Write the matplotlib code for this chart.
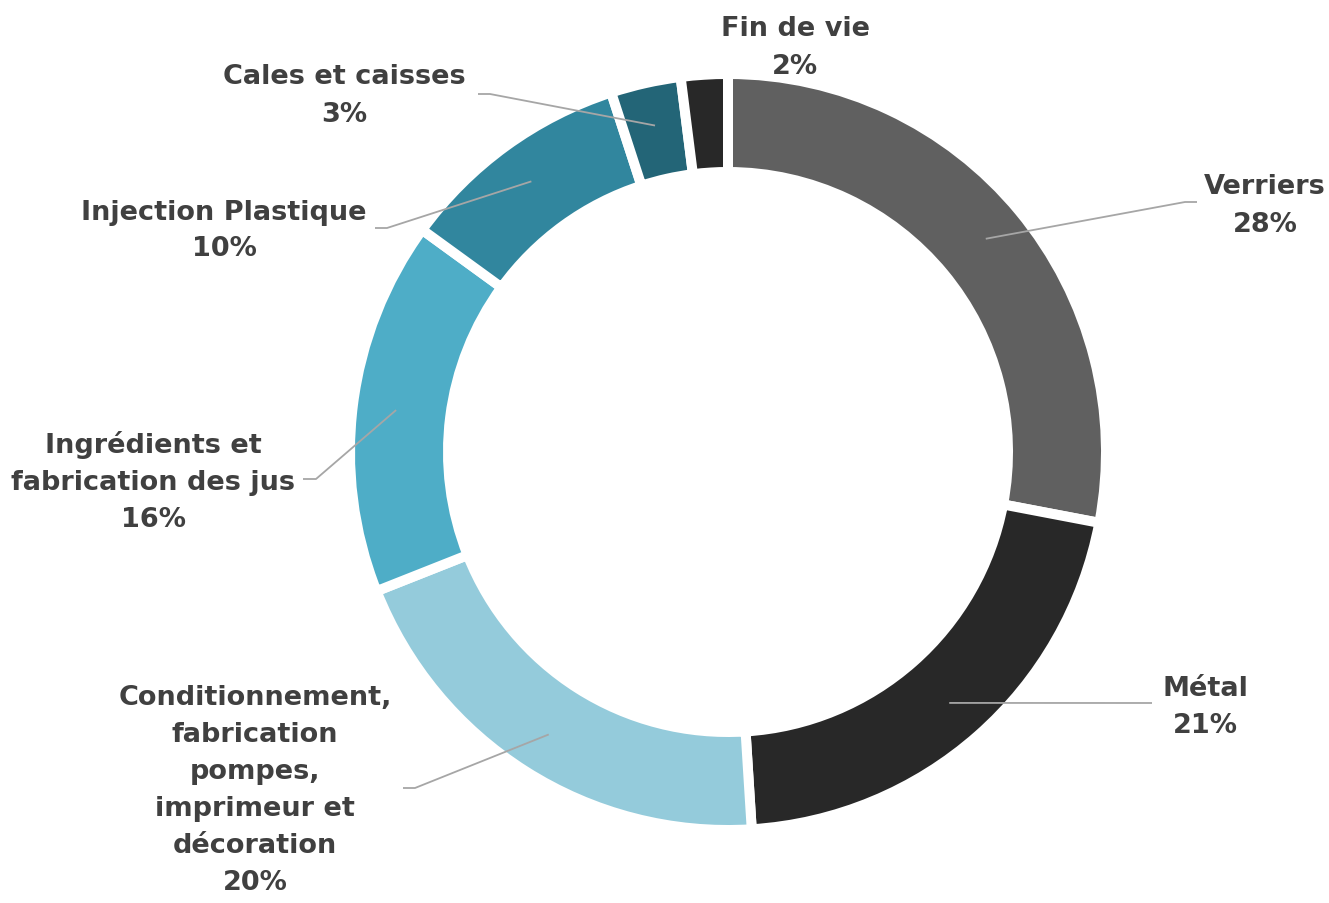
import matplotlib
matplotlib.use("Agg")
import matplotlib.pyplot as plt
import numpy as np

labels = ["Verriers", "Métal",
          "Conditionnement,\nfabrication\npompes,\nimprimeur et\ndécoration",
          "Ingrédients et\nfabrication des jus", "Injection Plastique",
          "Cales et caisses", "Fin de vie"]
shares = [28, 21, 20, 16, 10, 3, 2]
colors = ["#606060", "#282828", "#94CBDB", "#4EADC7", "#31869E", "#236577", "#282828"]

# label anchor (text centre) and leader elbow, in pixel coords (y down)
label_pos = [(1265, 206), (1205, 708), (255, 791), (153, 482), (224, 231), (344, 96), (795, 48)]
elbows = [(1185, 203), None, (415, 789), (316, 480), (387, 229), (490, 95), None]
ends = [(1197, 203), (1152, 704), (403, 789), (303, 480), (375, 229), (478, 95), None]

W, H = 1329, 904
cx, cy = 728, 453
R = 378

plt.rcParams["font.family"] = ["DejaVu Sans"]
txt_color = "#404040"

fig = plt.figure(figsize=(W / 100, H / 100), dpi=100)
ax = fig.add_axes([0, 0, 1, 1])

wedges, _ = ax.pie(shares, colors=colors, startangle=90, counterclock=False,
                   radius=R, center=(cx, H - cy),
                   wedgeprops=dict(width=98, edgecolor="white", linewidth=7.2))

# pie() resets the limits, so set them afterwards
ax.set_xlim(0, W)
ax.set_ylim(0, H)
ax.set_aspect("equal")
ax.axis("off")

for w, lab, val, pos, elb, end in zip(wedges, labels, shares, label_pos, elbows, ends):
    ax.text(pos[0], H - pos[1], "{}\n{}%".format(lab, val), ha="center", va="center",
            fontsize=19.5, fontweight="bold", color=txt_color, linespacing=1.55)
    if end is None:
        continue
    mid = np.deg2rad((w.theta1 + w.theta2) / 2)
    sx = cx + 0.885 * R * np.cos(mid)
    sy = (H - cy) + 0.885 * R * np.sin(mid)
    xs = [sx] + ([elb[0]] if elb else []) + [end[0]]
    ys = [sy] + ([H - elb[1]] if elb else []) + [H - end[1]]
    ax.plot(xs, ys, color="#A6A6A6", lw=1.3, solid_capstyle="butt")

fig.savefig("out.png", dpi=100)
